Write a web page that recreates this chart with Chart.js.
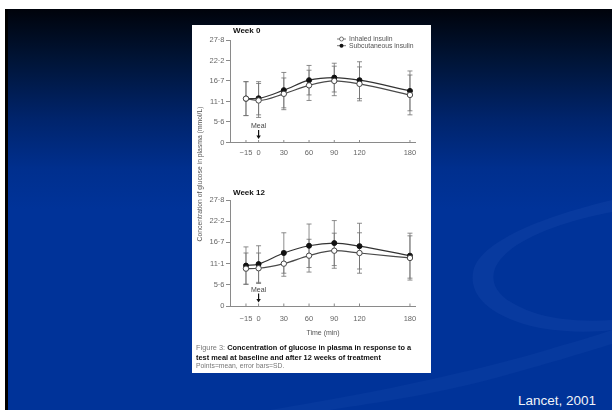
<!DOCTYPE html>
<html>
<head>
<meta charset="utf-8">
<script src="https://cdn.jsdelivr.net/npm/chart.js@4.4.1/dist/chart.umd.min.js"></script>
<style>
  html, body { margin:0; padding:0; }
  body { width:612px; height:410px; position:relative; overflow:hidden; background:#fff; font-family:"Liberation Sans", Arial, sans-serif; }
  #slide { position:absolute; left:5px; top:9px; width:607px; height:401px; border-left:3px solid #000; box-sizing:border-box;
    background:linear-gradient(to bottom, #00030b 0px, #001436 50px, #00246c 110px, #002f8e 160px, #003399 200px, #003399 100%); }
  #swoosh { position:absolute; left:0; top:0; }
  #panel { position:absolute; left:192px; top:25px; width:239px; height:348px; background:#fff; }
  canvas { position:absolute; left:192px; }
  #c0 { top:25px; }
  #c12 { top:185px; }
  .wk { position:absolute; left:233px; font-weight:bold; font-size:8px; color:#111; line-height:10px; }
  #ytitle { position:absolute; left:199px; top:174px; font-size:6.8px; color:#555; white-space:nowrap;
    transform:translate(-50%,-50%) rotate(-90deg); }
  #xtitle { position:absolute; left:323px; top:332px; transform:translate(-50%,-50%); font-size:7px; color:#555; white-space:nowrap; }
  .cap { position:absolute; left:196px; font-size:7.4px; line-height:9px; color:#111; white-space:nowrap; font-weight:bold; }
  .cap span { font-weight:normal; color:#777; }
  #note { position:absolute; left:196px; top:362px; font-size:6.8px; color:#777; white-space:nowrap; }
  #cite { position:absolute; left:518px; top:393px; font-size:13.5px; color:#f0f2f8; white-space:nowrap; }
</style>
</head>
<body>
<div id="slide"></div>
<svg id="swoosh" width="612" height="410">
  <path d="M612,200 C550,215 485,238 474,268 C466,296 492,318 540,328 C570,333 595,332 612,330 L612,320 C585,322 555,320 532,312 C498,300 488,284 496,266 C510,240 560,222 612,212 Z" fill="rgba(110,150,240,0.07)"/>
  <path d="M270,410 C380,392 470,372 540,352 C570,343 595,336 612,330 L612,344 C580,354 540,366 480,382 C420,397 360,405 330,410 Z" fill="rgba(110,150,240,0.06)"/>
</svg>
<div id="panel"></div>
<canvas id="c0" width="239" height="140"></canvas>
<canvas id="c12" width="239" height="150"></canvas>
<div class="wk" style="top:26px">Week 0</div>
<div class="wk" style="top:188px">Week 12</div>
<div id="ytitle">Concentration of glucose in plasma (mmol/L)</div>
<div id="xtitle">Time (min)</div>
<div class="cap" style="top:343px"><span>Figure 3: </span>Concentration of glucose in plasma in response to a</div>
<div class="cap" style="top:353px">test meal at baseline and after 12 weeks of treatment</div>
<div id="note">Points=mean, error bars=SD.</div>
<div id="cite">Lancet, 2001</div>

<script>
// values (mmol/L)
const timeMin = [-15, 0, 30, 60, 90, 120, 180];
const xTickLabels = ['\u221215', '0', '30', '60', '90', '120', '180'];
const yTickValues = [0, 5.6, 11.1, 16.7, 22.2, 27.8];
const yTickLabels = ['0', '5\u00b76', '11\u00b71', '16\u00b77', '22\u00b72', '27\u00b78'];
const seriesNames = ['Inhaled insulin', 'Subcutaneous insulin'];

const wk0Inhaled    = [11.9, 11.4, 13.2, 15.5, 16.7, 15.9, 12.9];
const wk0InhaledSD  = [4.6, 4.6, 4.3, 4.1, 4.0, 4.6, 5.4];
const wk0Subcut     = [11.9, 12.0, 14.2, 16.9, 17.6, 16.9, 14.0];
const wk0SubcutSD   = [4.6, 4.5, 4.8, 4.0, 3.9, 5.0, 5.4];

const wk12Inhaled   = [9.8, 9.9, 11.1, 13.2, 14.5, 13.9, 12.6];
const wk12InhaledSD = [4.1, 4.0, 3.3, 4.3, 4.6, 5.3, 5.8];
const wk12Subcut    = [10.6, 11.0, 13.9, 15.8, 16.5, 15.7, 13.2];
const wk12SubcutSD  = [4.9, 4.8, 5.3, 5.7, 5.9, 6.0, 5.9];

const FONT = '"Liberation Sans", Arial, sans-serif';
const AXIS = '#8a8a8a', TXT = '#666';

const pts = arr => arr.map((v, i) => ({ x: timeMin[i], y: v }));

const errorBars = (sets) => ({
  id: 'errorBars',
  beforeDatasetsDraw(chart) {
    const { ctx, scales: { x, y } } = chart;
    ctx.save();
    ctx.strokeStyle = '#707070'; ctx.lineWidth = 0.8;
    sets.forEach(s => s.mean.forEach((m, i) => {
      const px = x.getPixelForValue(timeMin[i]);
      const t = y.getPixelForValue(m + s.sd[i]), b = y.getPixelForValue(m - s.sd[i]);
      ctx.beginPath();
      ctx.moveTo(px, t); ctx.lineTo(px, b);
      ctx.moveTo(px - 2.5, t); ctx.lineTo(px + 2.5, t);
      ctx.moveTo(px - 2.5, b); ctx.lineTo(px + 2.5, b);
      ctx.stroke();
    }));
    ctx.restore();
  }
});

// meal marker, inner x ticks
const extras = {
  id: 'extras',
  afterDraw(chart) {
    const { ctx, chartArea: a, scales: { x } } = chart;
    ctx.save();
    ctx.strokeStyle = AXIS; ctx.lineWidth = 1;
    timeMin.forEach(t => {
      const px = x.getPixelForValue(t);
      ctx.beginPath(); ctx.moveTo(px, a.bottom); ctx.lineTo(px, a.bottom - 2.5); ctx.stroke();
    });
    const mx = x.getPixelForValue(0);
    ctx.fillStyle = '#444'; ctx.font = '7px ' + FONT; ctx.textAlign = 'center'; ctx.textBaseline = 'middle';
    ctx.fillText('Meal', mx, a.bottom - 16);
    ctx.strokeStyle = '#111'; ctx.lineWidth = 1.2;
    ctx.beginPath(); ctx.moveTo(mx, a.bottom - 12.5); ctx.lineTo(mx, a.bottom - 6); ctx.stroke();
    ctx.fillStyle = '#111';
    ctx.beginPath(); ctx.moveTo(mx - 2.2, a.bottom - 7); ctx.lineTo(mx + 2.2, a.bottom - 7); ctx.lineTo(mx, a.bottom - 3.5); ctx.closePath(); ctx.fill();
    ctx.restore();
  }
};

const legendBox = {
  id: 'legendBox',
  afterDraw(chart) {
    const { ctx } = chart;
    ctx.save();
    ctx.font = '6.8px ' + FONT; ctx.textBaseline = 'middle'; ctx.fillStyle = '#555';
    seriesNames.forEach((n, i) => {
      const y = 14 + i * 6.7;
      ctx.strokeStyle = '#555'; ctx.lineWidth = 0.8;
      ctx.beginPath(); ctx.moveTo(145, y); ctx.lineTo(154, y); ctx.stroke();
      ctx.beginPath(); ctx.arc(149.5, y, 2, 0, Math.PI * 2);
      if (i === 0) { ctx.fillStyle = '#fff'; ctx.fill(); ctx.stroke(); }
      else { ctx.fillStyle = '#111'; ctx.fill(); }
      ctx.fillStyle = '#555';
      ctx.fillText(n, 157, y + 0.3);
    });
    ctx.restore();
  }
};

const makeChart = (id, inhaled, subcut, sets, xH, tickPad, plugins) => new Chart(document.getElementById(id), {
  type: 'line',
  data: { datasets: [
    { label: seriesNames[0], data: pts(inhaled), borderColor: '#4a4a4a', borderWidth: 1.2, cubicInterpolationMode: 'monotone',
      pointRadius: 2.7, pointBackgroundColor: '#fff', pointBorderColor: '#444', pointBorderWidth: 1 },
    { label: seriesNames[1], data: pts(subcut), borderColor: '#333', borderWidth: 1.2, cubicInterpolationMode: 'monotone',
      pointRadius: 2.5, pointBackgroundColor: '#111', pointBorderColor: '#111', pointBorderWidth: 1 }
  ]},
  options: {
    responsive: false, animation: false, devicePixelRatio: 1,
    layout: { padding: { top: 15, right: 16, left: 0, bottom: 0 } },
    plugins: { legend: { display: false }, tooltip: { enabled: false } },
    scales: {
      x: { type: 'linear', min: -34, max: 186,
        afterFit: s => { s.height = xH; },
        afterBuildTicks: s => { s.ticks = timeMin.map(v => ({ value: v })); },
        grid: { drawOnChartArea: false, drawTicks: false },
        border: { color: AXIS, width: 1 },
        ticks: { autoSkip: false, maxRotation: 0, padding: tickPad, color: TXT, font: { family: FONT, size: 7.5 },
          callback: (v, i) => xTickLabels[i] } },
      y: { min: 0, max: 27.8,
        afterFit: s => { s.width = 38; },
        afterBuildTicks: s => { s.ticks = yTickValues.map(v => ({ value: v })); },
        grid: { drawOnChartArea: false, drawTicks: true, tickLength: 4, color: AXIS },
        border: { color: AXIS, width: 1 },
        ticks: { padding: 1.5, color: TXT, font: { family: FONT, size: 7.5 }, callback: (v, i) => yTickLabels[i] } }
    }
  },
  plugins: [errorBars(sets), extras].concat(plugins)
});

makeChart('c0', wk0Inhaled, wk0Subcut,
  [{ mean: wk0Subcut, sd: wk0SubcutSD }, { mean: wk0Inhaled, sd: wk0InhaledSD }], 22.5, 6, [legendBox]);
makeChart('c12', wk12Inhaled, wk12Subcut,
  [{ mean: wk12Subcut, sd: wk12SubcutSD }, { mean: wk12Inhaled, sd: wk12InhaledSD }], 29, 8, []);
</script>
</body>
</html>
